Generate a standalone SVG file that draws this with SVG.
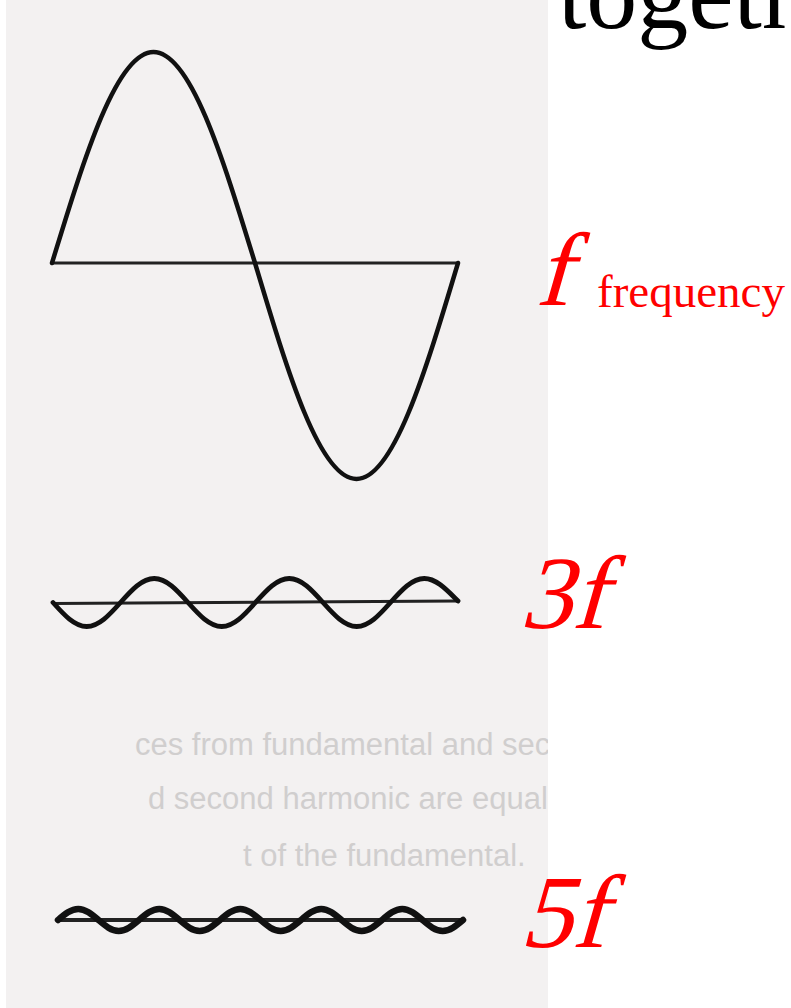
<svg xmlns="http://www.w3.org/2000/svg" width="791" height="1008" viewBox="0 0 791 1008">
  <style>
    .wave { fill: none; stroke: #111; stroke-linejoin: miter; stroke-linecap: round; }
    .axis { fill: none; stroke: #222; }
    .lbl { font-family: "Liberation Serif", "Times New Roman", serif; font-style: normal; fill: #ff0000; font-size: 104px; }
    .ghost { font-family: "Liberation Sans", Arial, sans-serif; font-size: 31px; fill: #d0cece; }
  </style>
  <defs>
    <clipPath id="scanClip"><rect x="6" y="0" width="542" height="1008"/></clipPath>
  </defs>
  <rect x="0" y="0" width="791" height="1008" fill="#ffffff"/>
  <g id="scan">
    <rect x="6" y="0" width="542" height="1008" fill="#f3f1f1"/>
    <g clip-path="url(#scanClip)">
      <text class="ghost" x="135" y="755">ces from fundamental and sec</text>
      <text class="ghost" x="148" y="809">d second harmonic are equal</text>
      <text class="ghost" x="243" y="866">t of the fundamental.</text>
    </g>
  </g>
  <g id="title">
    <text x="558" y="28" font-family="'Liberation Serif', 'Times New Roman', serif" font-size="102" fill="#000">togeth</text>
  </g>
  <g id="wave-f">
    <path class="axis" stroke-width="3" d="M52,263 H458"/>
    <path class="wave" stroke-width="4.5" d="M52,263 C85.1,154.9 116.8,52 153.5,52 C190.2,52 221.9,154.9 255,263 C288.1,373.7 319.8,479 356.5,479 C393.2,479 424.9,373.7 458,263"/>
  </g>
  <g id="wave-3f">
    <path class="axis" stroke-width="3" d="M53,603.5 L458,601"/>
    <path class="wave" stroke-width="4.8" d="M53,602.5 C64,614.8 74.5,626.5 86.75,626.5 C99,626.5 109.5,614.8 120.5,602.5 C131.5,590.2 142,578.5 154.25,578.5 C166.5,578.5 177,590.2 188,602.5 C199,614.8 209.5,626.5 221.75,626.5 C234,626.5 244.5,614.8 255.5,602.5 C266.5,590.2 277,578.5 289.25,578.5 C301.5,578.5 312,590.2 323,602.5 C334,614.8 344.5,626.5 356.75,626.5 C369,626.5 379.5,614.8 390.5,602.5 C401.5,590.2 412,578.5 424.25,578.5 C436.5,578.5 447,590.2 458,601"/>
  </g>
  <g id="wave-5f">
    <path class="axis" stroke-width="4" d="M58,920 H463"/>
    <path class="wave" stroke-width="6.5" d="M58,920 C64.6,914.4 70.9,909 78.25,909 C85.55,909 91.85,914.4 98.5,920 C105.1,925.6 111.4,931 118.75,931 C126.05,931 132.35,925.6 139,920 C145.6,914.4 151.9,909 159.25,909 C166.55,909 172.85,914.4 179.5,920 C186.1,925.6 192.4,931 199.75,931 C207.05,931 213.35,925.6 220,920 C226.6,914.4 232.9,909 240.25,909 C247.55,909 253.85,914.4 260.5,920 C267.1,925.6 273.4,931 280.75,931 C288.05,931 294.35,925.6 301,920 C307.6,914.4 313.9,909 321.25,909 C328.55,909 334.85,914.4 341.5,920 C348.1,925.6 354.4,931 361.75,931 C369.05,931 375.35,925.6 382,920 C388.6,914.4 394.9,909 402.25,909 C409.55,909 415.85,914.4 422.5,920 C429.1,925.6 435.4,931 442.75,931 C450.05,931 456.35,925.6 463,920"/>
  </g>
  <g id="label-f">
    <text class="lbl" transform="translate(535,305) skewX(-16)">f</text>
    <text x="597" y="307" font-family="'Liberation Serif', 'Times New Roman', serif" font-size="47" fill="#ff0000">frequency</text>
  </g>
  <g id="label-3f">
    <text class="lbl" transform="translate(519,628) skewX(-16)">3f</text>
  </g>
  <g id="label-5f">
    <text class="lbl" transform="translate(519,947) skewX(-16)">5f</text>
  </g>
</svg>
